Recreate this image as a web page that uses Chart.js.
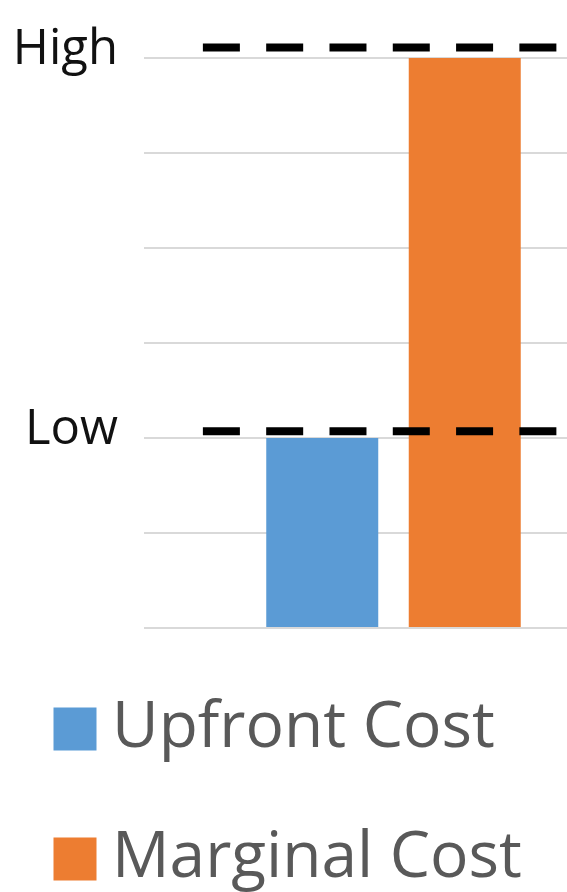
<!DOCTYPE html>
<html>
<head>
<meta charset="utf-8">
<script src="https://cdn.jsdelivr.net/npm/chart.js@4/dist/chart.umd.min.js"></script>
<style>
  html, body { margin: 0; padding: 0; background: #ffffff; overflow: hidden; }
  #wrap { width: 567px; height: 892px; overflow: hidden; position: relative; }
  #c { display: block; }
</style>
</head>
<body>
<div id="wrap"><canvas id="c" width="643" height="892"></canvas></div>
<script>
// ---- data ----
const categories = ['Cost'];
const seriesNames = ['Upfront Cost', 'Marginal Cost'];
const upfrontValues = [2];
const marginalValues = [6];
const tickValues = [2, 6];
const tickLabels = ['Low', 'High'];
const refLevels = [6.11, 2.07];   // dashed reference levels

const BLUE = '#5b9bd5';
const ORANGE = '#ed7d31';
const REF_SPAN = [0.118, 0.828];  // horizontal extent of the dashed lines (fraction of plot width)

// dashed reference lines, placed through the y scale
const refLinesPlugin = {
  id: 'refLines',
  afterDatasetsDraw(chart) {
    const {ctx, chartArea: a, scales: {y}} = chart;
    const x0 = a.left + REF_SPAN[0] * (a.right - a.left);
    const x1 = a.left + REF_SPAN[1] * (a.right - a.left);
    ctx.save();
    ctx.strokeStyle = '#000000';
    ctx.lineWidth = 8;
    ctx.lineCap = 'butt';
    ctx.setLineDash([37, 26.3]);
    refLevels.forEach(v => {
      const py = y.getPixelForValue(v);
      ctx.beginPath();
      ctx.moveTo(x0, py);
      ctx.lineTo(x1, py);
      ctx.stroke();
    });
    ctx.restore();
  }
};

new Chart(document.getElementById('c'), {
  type: 'bar',
  data: {
    labels: categories,
    datasets: [
      { label: seriesNames[0], data: upfrontValues, backgroundColor: BLUE, borderWidth: 0 },
      { label: seriesNames[1], data: marginalValues, backgroundColor: ORANGE, borderWidth: 0 }
    ]
  },
  plugins: [refLinesPlugin],
  options: {
    responsive: false,
    animation: false,
    events: [],
    layout: { padding: { top: 58, bottom: -9, left: 4, right: 0 } },
    datasets: { bar: { categoryPercentage: 0.5711, barPercentage: 0.786 } },
    scales: {
      x: {
        type: 'category',
        display: true,
        grid: { display: false, drawTicks: false },
        border: { display: false },
        ticks: { display: false },
        afterFit: s => { s.height = 3; }
      },
      y: {
        min: 0,
        max: 6,
        afterFit: s => { s.width = 140; },
        border: { display: false },
        grid: { color: '#d9d9d9', lineWidth: 2, drawTicks: false },
        ticks: {
          stepSize: 1,
          padding: 26,
          labelOffset: -8,
          color: '#111111',
          font: { family: '"Open Sans", sans-serif', size: 49 },
          callback: v => {
            const i = tickValues.indexOf(v);
            return i >= 0 ? tickLabels[i] : '';
          }
        }
      }
    },
    plugins: {
      tooltip: { enabled: false },
      legend: {
        display: true,
        position: 'bottom',
        align: 'start',
        labels: {
          usePointStyle: true,
          pointStyle: 'rect',
          boxWidth: 10,
          boxHeight: 43,
          padding: 66,
          color: '#595959',
          font: { family: '"Open Sans", sans-serif', size: 64 }
        }
      }
    }
  }
});
</script>
</body>
</html>
